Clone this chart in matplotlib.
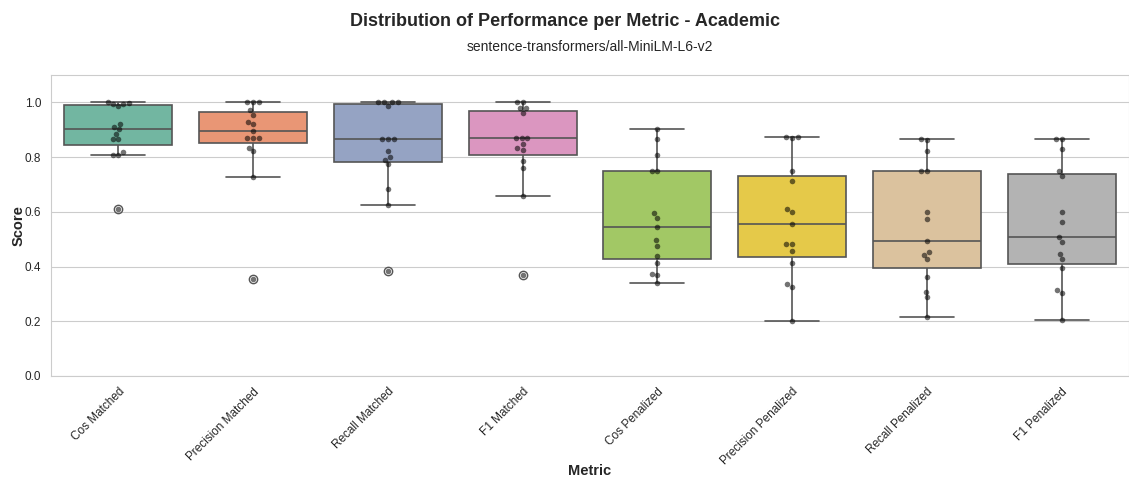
import numpy as np
import pandas as pd
import matplotlib
matplotlib.use('Agg')
import matplotlib.pyplot as plt
import seaborn as sns

metrics = ['Cos Matched', 'Precision Matched', 'Recall Matched', 'F1 Matched',
           'Cos Penalized', 'Precision Penalized', 'Recall Penalized', 'F1 Penalized']

cos_matched = [1.0, 0.998, 0.995, 0.993, 0.985, 0.922, 0.91, 0.902, 0.885,
               0.867, 0.867, 0.818, 0.807, 0.807, 0.611]
precision_matched = [1.0, 1.0, 1.0, 0.972, 0.954, 0.929, 0.92, 0.895, 0.871,
                     0.871, 0.871, 0.834, 0.821, 0.726, 0.356]
recall_matched = [1.0, 1.0, 1.0, 1.0, 0.986, 0.865, 0.865, 0.865, 0.821,
                  0.799, 0.791, 0.774, 0.682, 0.624, 0.385]
f1_matched = [1.0, 1.0, 0.978, 0.978, 0.96, 0.868, 0.868, 0.868, 0.848,
              0.832, 0.827, 0.787, 0.761, 0.657, 0.368]
cos_penalized = [0.901, 0.866, 0.808, 0.748, 0.748, 0.595, 0.578, 0.545, 0.496,
                 0.476, 0.439, 0.414, 0.373, 0.369, 0.339]
precision_penalized = [0.873, 0.872, 0.871, 0.748, 0.713, 0.612, 0.6, 0.556, 0.484,
                       0.482, 0.455, 0.414, 0.336, 0.327, 0.2]
recall_penalized = [0.865, 0.862, 0.821, 0.749, 0.749, 0.6, 0.575, 0.493, 0.454,
                    0.444, 0.426, 0.362, 0.308, 0.288, 0.214]
f1_penalized = [0.867, 0.866, 0.831, 0.749, 0.731, 0.6, 0.564, 0.507, 0.489,
                0.445, 0.426, 0.394, 0.314, 0.302, 0.204]

series = [cos_matched, precision_matched, recall_matched, f1_matched,
          cos_penalized, precision_penalized, recall_penalized, f1_penalized]

rows = []
for name, vals in zip(metrics, series):
    for v in vals:
        rows.append((name, v))
df = pd.DataFrame(rows, columns=['Metric', 'Score'])

sns.set_style('whitegrid')
plt.rcParams['font.family'] = ['Liberation Sans', 'DejaVu Sans']

fig = plt.figure(figsize=(11.29, 4.8), dpi=100)
ax = fig.add_axes([51 / 1129, 104 / 480, 1078 / 1129, 301 / 480])

sns.boxplot(data=df, x='Metric', y='Score', hue='Metric', order=metrics,
            palette='Set2', legend=False, linecolor='#555555', linewidth=1.2,
            width=0.8, ax=ax)
sns.swarmplot(data=df, x='Metric', y='Score', order=metrics, color='black',
              alpha=0.55, size=4, ax=ax)

ax.set_ylim(0, 1.1)
ax.set_xlim(-0.5, 7.5)
ax.set_yticks([0.0, 0.2, 0.4, 0.6, 0.8, 1.0])
ax.tick_params(axis='both', labelsize=8.5)
ax.set_xticks(range(len(metrics)))
ax.set_xticklabels(metrics, rotation=45, ha='right', rotation_mode='anchor')
ax.set_xlabel('Metric', fontsize=10.5, fontweight='bold')
ax.set_ylabel('Score', fontsize=10.5, fontweight='bold')
ax.xaxis.set_label_coords(0.5, -0.292)
ax.yaxis.set_label_coords(-0.024, 0.5)
ax.set_title('sentence-transformers/all-MiniLM-L6-v2', fontsize=10, pad=17)
fig.suptitle('Distribution of Performance per Metric - Academic',
             fontsize=13, fontweight='bold', y=0.972)

fig.savefig('out.png', dpi=100)
